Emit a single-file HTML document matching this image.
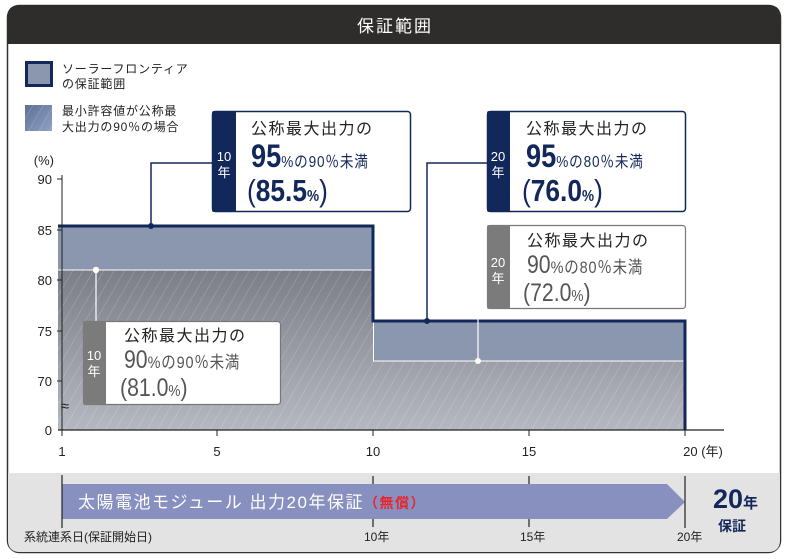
<!DOCTYPE html>
<html><head><meta charset="utf-8"><style>
body{margin:0;background:#fff;}
svg{display:block;font-family:"Liberation Sans","Noto Sans CJK JP",sans-serif;}
</style></head><body>
<svg width="791" height="559" viewBox="0 0 791 559" xmlns="http://www.w3.org/2000/svg">
<defs>
<linearGradient id="g" x1="0" y1="225" x2="0" y2="430" gradientUnits="userSpaceOnUse">
<stop offset="0" stop-color="#6b6d77"/><stop offset="1" stop-color="#b5b8c1"/></linearGradient>
<pattern id="hatch" width="9" height="9" patternUnits="userSpaceOnUse" patternTransform="rotate(30)">
<line x1="0" y1="0" x2="0" y2="9" stroke="#ffffff" stroke-opacity="0.28" stroke-width="1"/></pattern>
<linearGradient id="lg" x1="0" y1="0" x2="1" y2="1"><stop offset="0" stop-color="#5d6f93"/><stop offset="1" stop-color="#8fa2c6"/></linearGradient>
</defs>
<rect x="7.5" y="5.5" width="773" height="547" rx="12" fill="#fff" stroke="#333" stroke-width="1.5"/>
<path d="M7 44 V18 Q7 5 20 5 H768 Q781 5 781 18 V44 Z" fill="#2f2c2c"/>
<text x="395" y="32" fill="#fff" font-size="17" text-anchor="middle" letter-spacing="2">保証範囲</text>
<path d="M8 473 H780 V540 Q780 552 768 552 H20 Q8 552 8 540 Z" fill="#e4e3e4"/>
<rect x="26.5" y="62.5" width="25" height="23" fill="#8a97ae" stroke="#13285a" stroke-width="3"/>
<text x="62" y="73" font-size="12" fill="#222" letter-spacing="0.8">ソーラーフロンティア</text>
<text x="62" y="88" font-size="12" fill="#222" letter-spacing="0.8">の保証範囲</text>
<rect x="25" y="105" width="27" height="26" fill="url(#lg)"/>
<rect x="25" y="105" width="27" height="26" fill="url(#hatch)"/>
<text x="62" y="115" font-size="12" fill="#222" letter-spacing="0.8">最小許容値が公称最</text>
<text x="62" y="131" font-size="12" fill="#222" letter-spacing="0.8">大出力の90％の場合</text>
<rect x="58" y="225" width="315" height="205" fill="url(#g)"/>
<rect x="373" y="321" width="313" height="109" fill="url(#g)"/>
<rect x="58" y="225" width="315" height="205" fill="url(#hatch)"/>
<rect x="373" y="321" width="313" height="109" fill="url(#hatch)"/>
<rect x="58" y="226" width="315" height="44" fill="#8a97ae"/>
<rect x="373" y="321" width="313" height="40" fill="#8a97ae"/>
<line x1="58" y1="270" x2="373" y2="270" stroke="#fff" stroke-width="1"/>
<line x1="373" y1="361" x2="686" y2="361" stroke="#fff" stroke-width="1"/>
<line x1="373.5" y1="321" x2="373.5" y2="361" stroke="#fff" stroke-width="1"/>
<path d="M58 226 H373 V321 H685 V430" fill="none" stroke="#13285a" stroke-width="3"/>
<line x1="58" y1="430" x2="724" y2="430" stroke="#222" stroke-width="1.2"/>
<line x1="62" y1="175" x2="62" y2="430" stroke="#222" stroke-width="1"/>
<g stroke="#222" stroke-width="1">
<line x1="57" y1="179" x2="62" y2="179"/><line x1="57" y1="230" x2="62" y2="230"/><line x1="57" y1="280" x2="62" y2="280"/><line x1="57" y1="331" x2="62" y2="331"/><line x1="57" y1="381" x2="62" y2="381"/>
<line x1="62" y1="430" x2="62" y2="436"/><line x1="217" y1="430" x2="217" y2="436"/><line x1="373" y1="430" x2="373" y2="436"/><line x1="529" y1="430" x2="529" y2="436"/><line x1="685" y1="430" x2="685" y2="436"/>
</g>
<g font-size="13" fill="#222" text-anchor="end">
<text x="54" y="165">(%)</text>
<text x="52" y="184">90</text><text x="52" y="235">85</text><text x="52" y="285">80</text><text x="52" y="336">75</text><text x="52" y="386">70</text><text x="52" y="435">0</text>
<text x="69" y="411" font-size="15">≈</text>
</g>
<g font-size="13" fill="#222" text-anchor="middle">
<text x="62" y="456">1</text><text x="217" y="456">5</text><text x="373" y="456">10</text><text x="529" y="456">15</text><text x="703" y="456">20 (年)</text>
</g>
<path d="M151 226 V163 H212" fill="none" stroke="#13285a" stroke-width="1.5"/>
<circle cx="151" cy="226" r="3" fill="#13285a"/>
<path d="M427 321 V163 H487" fill="none" stroke="#13285a" stroke-width="1.5"/>
<circle cx="427" cy="321" r="3" fill="#13285a"/>
<path d="M478 361 V267 H487" fill="none" stroke="#fff" stroke-width="1.2"/>
<circle cx="478" cy="361" r="3" fill="#fff"/>
<path d="M96 270 V321" fill="none" stroke="#fff" stroke-width="1.2"/>
<circle cx="96" cy="270" r="3.2" fill="#fff"/>
<rect x="212.5" y="111.5" width="198" height="100" rx="3" fill="#fff" stroke="#13285a" stroke-width="1.5"/>
<rect x="212" y="111" width="24" height="101" rx="2" fill="#13285a"/>
<text x="224" y="161" fill="#fff" font-size="13" text-anchor="middle">10</text>
<text x="224" y="177" fill="#fff" font-size="13" text-anchor="middle">年</text>
<text x="251" y="134" font-size="16" fill="#222" letter-spacing="1.5">公称最大出力の</text>
<text x="251" y="167" fill="#13285a" font-size="32" font-weight="bold" transform="translate(251 0) scale(0.85 1) translate(-251 0)">95<tspan font-size="16" font-weight="normal" letter-spacing="1">%の90％未満</tspan></text>
<text x="247" y="201" fill="#13285a" font-size="31" font-weight="bold" transform="translate(247 0) scale(0.85 1) translate(-247 0)"><tspan font-weight="normal">(</tspan>85.5<tspan font-size="16">%</tspan><tspan font-weight="normal">)</tspan></text>
<rect x="487.5" y="111.5" width="198" height="100" rx="3" fill="#fff" stroke="#13285a" stroke-width="1.5"/>
<rect x="487" y="111" width="23" height="101" rx="2" fill="#13285a"/>
<text x="498" y="161" fill="#fff" font-size="13" text-anchor="middle">20</text>
<text x="498" y="177" fill="#fff" font-size="13" text-anchor="middle">年</text>
<text x="526" y="134" font-size="16" fill="#222" letter-spacing="1.5">公称最大出力の</text>
<text x="526" y="167" fill="#13285a" font-size="32" font-weight="bold" transform="translate(526 0) scale(0.85 1) translate(-526 0)">95<tspan font-size="16" font-weight="normal" letter-spacing="1">%の80％未満</tspan></text>
<text x="522" y="201" fill="#13285a" font-size="31" font-weight="bold" transform="translate(522 0) scale(0.85 1) translate(-522 0)"><tspan font-weight="normal">(</tspan>76.0<tspan font-size="16">%</tspan><tspan font-weight="normal">)</tspan></text>
<rect x="487.5" y="225.5" width="198" height="83" rx="3" fill="#fff" stroke="#777" stroke-width="1.2"/>
<rect x="487" y="225" width="23" height="84" rx="2" fill="#7b7b7b"/>
<text x="498" y="267" fill="#fff" font-size="13" text-anchor="middle">20</text>
<text x="498" y="283" fill="#fff" font-size="13" text-anchor="middle">年</text>
<text x="527" y="246" font-size="16" fill="#222" letter-spacing="1.5">公称最大出力の</text>
<text x="527" y="273" fill="#555" font-size="25" transform="translate(527 0) scale(0.85 1) translate(-527 0)">90<tspan font-size="17" letter-spacing="1">%の80％未満</tspan></text>
<text x="523" y="301" fill="#555" font-size="25" transform="translate(523 0) scale(0.85 1) translate(-523 0)">(72.0<tspan font-size="16">%</tspan>)</text>
<rect x="83.5" y="321.5" width="197" height="83" rx="3" fill="#fff" stroke="#777" stroke-width="1.2"/>
<rect x="83" y="321" width="23" height="84" rx="2" fill="#7b7b7b"/>
<text x="94" y="360" fill="#fff" font-size="13" text-anchor="middle">10</text>
<text x="94" y="376" fill="#fff" font-size="13" text-anchor="middle">年</text>
<text x="124" y="341" font-size="16" fill="#222" letter-spacing="1.5">公称最大出力の</text>
<text x="124" y="368" fill="#555" font-size="25" transform="translate(124 0) scale(0.85 1) translate(-124 0)">90<tspan font-size="17" letter-spacing="1">%の90％未満</tspan></text>
<text x="120" y="396" fill="#555" font-size="25" transform="translate(120 0) scale(0.85 1) translate(-120 0)">(81.0<tspan font-size="16">%</tspan>)</text>
<path d="M62 484 H667 L685 502 L667 519 H62 Z" fill="#8890c0"/>
<g stroke="#222" stroke-width="1.2">
<line x1="62" y1="475" x2="62" y2="528"/>
<line x1="373" y1="476" x2="373" y2="484"/><line x1="373" y1="519" x2="373" y2="527"/>
<line x1="529" y1="476" x2="529" y2="484"/><line x1="529" y1="519" x2="529" y2="527"/>
<line x1="685" y1="476" x2="685" y2="528"/>
</g>
<text x="78" y="508" fill="#fff" font-size="17" letter-spacing="1.5">太陽電池モジュール 出力20年保証<tspan fill="#e8262c" font-size="14" font-weight="bold">（無償）</tspan></text>
<g font-size="12" fill="#222">
<text x="24" y="541">系統連系日(保証開始日)</text>
<text x="364" y="541">10年</text><text x="520" y="541">15年</text><text x="677" y="541">20年</text>
</g>
<text x="713" y="508" fill="#13285a" font-size="27" font-weight="bold">20<tspan font-size="15">年</tspan></text>
<text x="718" y="531" fill="#13285a" font-size="14" font-weight="bold">保証</text>
</svg>
</body></html>
